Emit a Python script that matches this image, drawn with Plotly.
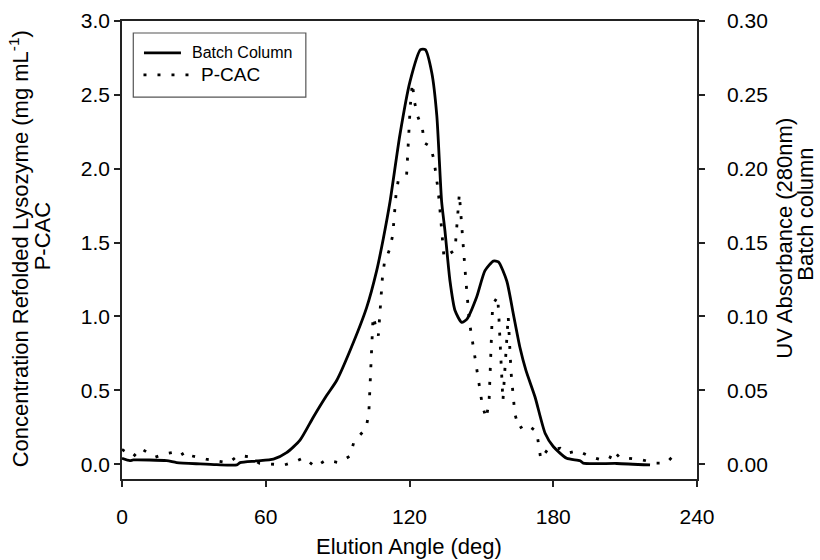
import plotly.graph_objects as go

# ---------------- data ----------------
batch_angle = [0, 3.3, 4.7, 18.6, 22.8, 32.6, 39.5, 47.9, 49.3, 56.2, 63.2, 68.7, 74.3,
               79.9, 85.4, 89.6, 95.2, 102.1, 106.3, 109.1, 111.9, 116.0, 120.2,
               124.6, 126.6, 129.3, 131.4, 133.4, 134.8, 136.9, 139.0, 141.8, 143.9,
               148.0, 151.5, 155.0, 157.1, 160.6, 163.3, 166.1, 168.6, 172.4, 176.6,
               180.0, 185.6, 191.2, 192.5, 206.5, 220.4]
batch_uv = [0.0040, 0.0024, 0.0029, 0.0024, 0.0011, 0.0002, -0.0003, -0.0005, 0.0011,
            0.0022, 0.0034, 0.0078, 0.0163, 0.032, 0.0465, 0.0567, 0.077,
            0.106, 0.131, 0.153, 0.178, 0.223, 0.259, 0.2806, 0.2806, 0.265, 0.236,
            0.178, 0.158, 0.124, 0.104, 0.096, 0.098, 0.113, 0.131, 0.1375, 0.137,
            0.124, 0.102, 0.079, 0.0635, 0.0455, 0.021, 0.012, 0.004, 0.0024, 0.0007,
            0.0005, -0.0005]

pcac_angle = [0, 4.7, 7.8, 13.8, 17.5, 24.5, 26.3, 29.2, 35.1, 40.6, 44.6, 48.5, 52.7,
              57.3, 62.5, 67.7, 71.9, 76.0, 80.6, 85.0, 90.6, 95.2, 96.8, 101.8, 103.0,
              104.5, 104.8, 107.0, 107.8, 108.1, 108.7, 109.5, 111.6, 113.0, 113.5,
              114.4, 115.3, 118.8, 119.1, 119.7, 120.3, 121.2, 122.0, 123.3, 125.4,
              126.2, 128.8, 130.2, 131.1, 131.8, 132.4, 134.4, 139.0, 140.8, 143.5,
              145.0, 146.8, 148.6, 150.4, 152.0, 153.2, 154.7, 156.8, 157.3, 159.0,
              161.2, 162.4, 164.0, 165.8, 168.9, 173.1, 174.8, 177.5, 182.9, 185.6,
              190.2, 195.5, 199.1, 203.4, 205.1, 208.0, 211.6, 217.3, 222.9, 227.1,
              229.8]
pcac_conc = [0.10, 0.051, 0.108, 0.047, 0.069, 0.089, 0.040, 0.056, 0.034, 0.018, 0.010,
             0.060, 0.051, 0.007, 0.000, -0.005, 0.015, 0.045, -0.018, 0.027, 0.011,
             0.056, 0.152, 0.242, 0.338, 0.90, 1.00, 0.87, 1.077, 1.17, 1.265, 1.36,
             1.45, 1.55, 1.64, 1.83, 1.92, 1.96, 2.05, 2.24, 2.42, 2.58, 2.46, 2.36,
             2.27, 2.175, 2.15, 2.06, 1.967, 1.873, 1.78, 1.40, 1.45, 1.83, 1.25, 0.964,
             0.778, 0.59, 0.40, 0.31, 0.42, 1.079, 1.135, 1.00, 0.43, 1.00, 0.62, 0.338,
             0.242, 0.271, 0.219, 0.034, 0.096, 0.108, 0.074, 0.092, 0.051, 0.034,
             0.034, 0.092, 0.040, 0.040, 0.029, 0.007, 0.007, 0.051]

x_ticks = [0, 60, 120, 180, 240]
y_ticks = [0.0, 0.5, 1.0, 1.5, 2.0, 2.5, 3.0]
y2_ticks = [0.00, 0.05, 0.10, 0.15, 0.20, 0.25, 0.30]

x_title = "Elution Angle (deg)"
y_title = ["Concentration Refolded Lysozyme (mg mL<sup>-1</sup>)", "P-CAC"]
y2_title = ["UV Absorbance (280nm)", "Batch column"]
legend_names = ["Batch Column", "P-CAC"]

# ---------------- layout constants ----------------
W, H = 820, 560
ML, MR, MT, MB = 122, 122.5, 20.5, 81
PW, PH = W - ML - MR, H - MT - MB
FONT = "Arial, Liberation Sans, sans-serif"
AX = "#222222"


def px(x):
    return (x - ML) / PW


def py(y):
    return (H - MB - y) / PH


fig = go.Figure()
fig.add_trace(go.Scatter(x=pcac_angle, y=pcac_conc, mode="lines", name=legend_names[1],
                         line=dict(color="black", width=2.8, dash="3px,11px"),
                         yaxis="y", showlegend=False))
fig.add_trace(go.Scatter(x=batch_angle, y=batch_uv, mode="lines", name=legend_names[0],
                         line=dict(color="black", width=2.8, shape="spline", smoothing=0.6),
                         yaxis="y2", showlegend=False))

# manual legend box
shapes = [
    dict(type="rect", xref="paper", yref="paper", x0=px(133.3), x1=px(306),
         y0=py(96.7), y1=py(32.5), line=dict(color="#555555", width=1.2),
         fillcolor="white", layer="above"),
    dict(type="line", xref="paper", yref="paper", x0=px(144), x1=px(181),
         y0=py(52.5), y1=py(52.5), line=dict(color="black", width=2.8)),
    dict(type="line", xref="paper", yref="paper", x0=px(143.5), x1=px(190),
         y0=py(74.5), y1=py(74.5), line=dict(color="black", width=2.8, dash="3px,11px")),
]


def ann(text, x, y, size, angle=0, xanchor="center"):
    return dict(text=text, xref="paper", yref="paper", x=px(x), y=py(y),
                xanchor=xanchor, yanchor="middle", showarrow=False, textangle=angle,
                font=dict(family=FONT, size=size, color="black"))


annotations = [
    ann(legend_names[0], 190, 52.5, 16, xanchor="left"),
    ann(legend_names[1], 199, 74.5, 19, xanchor="left"),
    ann(x_title, 409.5, 547, 22),
    ann(y_title[0], 19, 249, 22, angle=-90),
    ann(y_title[1], 42, 236, 22, angle=-90),
    ann(y2_title[0], 785, 238, 22, angle=-90),
    ann(y2_title[1], 806, 214, 22, angle=-90),
]

fig.update_layout(
    width=W, height=H, margin=dict(l=ML, r=MR, t=MT, b=MB, autoexpand=False),
    paper_bgcolor="white", plot_bgcolor="white",
    font=dict(family=FONT, size=21, color="black"),
    shapes=shapes, annotations=annotations,
    xaxis=dict(range=[0, 240], tickvals=x_ticks, ticks="outside", ticklen=6,
               tickwidth=1.5, tickcolor=AX, showline=True, linecolor=AX, linewidth=1.5,
               mirror=True, showgrid=False, zeroline=False, automargin=False,
               ticklabelstandoff=12),
    yaxis=dict(range=[-0.1, 3.0], tickvals=y_ticks, tickformat=".1f", ticks="outside",
               ticklen=6, tickwidth=1.5, tickcolor=AX, showline=True, linecolor=AX,
               linewidth=1.5, showgrid=False, zeroline=False, automargin=False),
    yaxis2=dict(range=[-0.01, 0.30], tickvals=y2_ticks, tickformat=".2f",
                overlaying="y", side="right", ticks="outside", ticklen=6, tickwidth=1.5,
                tickcolor=AX, showline=True, linecolor=AX, linewidth=1.5,
                showgrid=False, zeroline=False, ticklabelstandoff=18, automargin=False),
)

fig.write_html("out.html")
